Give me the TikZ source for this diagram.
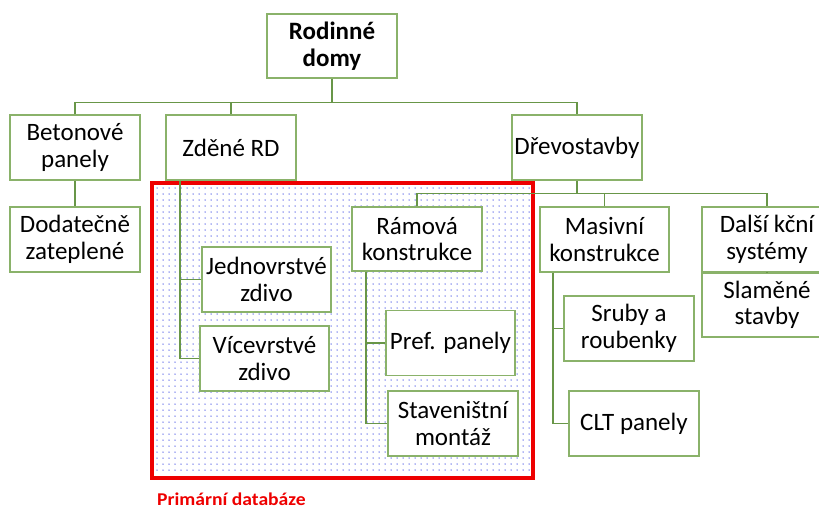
\documentclass[tikz,border=0pt]{standalone}
\usepackage{fontspec}
\setmainfont{Carlito}

\definecolor{boxgreen}{RGB}{138,178,106}
\definecolor{linegreen}{RGB}{104,150,72}
\definecolor{dbred}{RGB}{238,0,0}
\definecolor{dotblue}{RGB}{100,110,232}

\begin{document}
\begin{tikzpicture}[x=1pt,y=-1pt,
    box/.style={draw=boxgreen, line width=1.3pt, fill=white, minimum width=130pt,
        minimum height=65pt, inner sep=1pt, align=center, font=\fontsize{25}{26.5}\selectfont},
    link/.style={draw=linegreen, line width=1.1pt}]
    \clip (0,0) rectangle (819,508);

    % primary database area, dotted fill
    \fill[dotblue] \foreach \dx in {157,163,...,529}{\foreach \dy in {188,194,...,474}{(\dx,\dy) circle (0.75pt)}};
    \draw[dbred, line width=4pt] (152,183) rectangle (533,478);
    \node[anchor=base west, text=dbred, font=\fontsize{18}{19}\selectfont\bfseries, inner sep=0pt]
        (dblabel) at (157,505) {\scalebox{1.09}[1]{Primární databáze}};

    % first levels
    \node[box, minimum height=64pt, font=\fontsize{25}{27}\selectfont\bfseries] (top) at (332,46) {Rodinné\\domy};
    \node[box] (bet) at (75,147.5) {Betonové\\panely};
    \node[box] (zde) at (231,147.5) {Zděné RD};
    \node[box] (dre) at (577,147.5) {Dřevostavby};
    \node[box] (dod) at (75,239.5) {Dodatečně\\zateplené};

    % under Zdene RD
    \node[box, minimum width=129pt] (jed) at (266.5,279.5) {Jednovrstvé\\zdivo};
    \node[box, minimum width=129pt] (vic) at (264.5,358.5) {Vícevrstvé\\zdivo};

    % under Drevostavby
    \node[box, minimum height=64pt] (ram) at (417,239) {Rámová\\konstrukce};
    \node[box, minimum width=129pt] (mas) at (604.5,239.5) {Masivní\\konstrukce};
    \node[box] (dal) at (767,239.5) {Další kční\\systémy};
    \node[box, minimum height=64pt] (sla) at (767,305) {Slaměné\\stavby};
    \node[box, minimum width=129pt] (pre) at (450.5,343) {Pref. panely};
    \node[box] (sta) at (453,423.5) {Staveništní\\montáž};
    \node[box] (sru) at (629,328.5) {Sruby a\\roubenky};
    \node[box] (clt) at (634,423.5) {CLT panely};

    % connectors
    \draw[link] (top.south) -- ++(0,24) coordinate (topbus);
    \draw[link] (bet.north) |- (topbus) -| (dre.north);
    \draw[link] (zde.north) -- (zde.north |- topbus);
    \draw[link] (bet.south) -- (dod.north);

    \draw[link] ([xshift=-51pt]zde.south) |- (jed.west);
    \draw[link] ([xshift=-51pt]zde.south) |- (vic.west);

    \draw[link] (dre.south) -- ++(0,13) coordinate (drebus);
    \draw[link] (ram.north) |- (drebus) -| (dal.north);
    \draw[link] (mas.north) -- (mas.north |- drebus);
    \draw[link] (dal.south) -- (sla.north);

    \draw[link] ([xshift=-51pt]ram.south) |- (pre.west);
    \draw[link] ([xshift=-51pt]ram.south) |- (sta.west);
    \draw[link] ([xshift=-51.5pt]mas.south) |- (sru.west);
    \draw[link] ([xshift=-51.5pt]mas.south) |- (clt.west);
\end{tikzpicture}
\end{document}
